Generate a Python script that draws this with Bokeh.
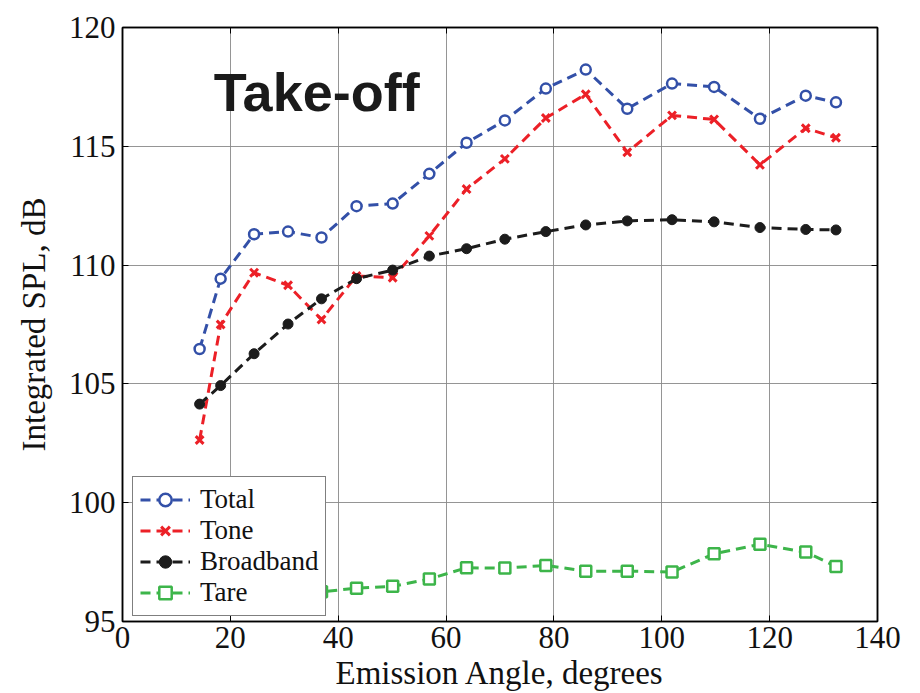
from bokeh.plotting import figure
from bokeh.models import (Range1d, LinearAxis, Label, FixedTicker, Legend, LegendItem,
                          CustomJSTickFormatter, InlineStyleSheet)
from bokeh.embed import file_html
from bokeh.resources import INLINE

# ---- data ----
angles = [14.3, 18.2, 24.4, 30.7, 36.9, 43.4, 50.1, 56.9, 63.8, 70.9,
          78.5, 85.9, 93.6, 101.9, 109.7, 118.2, 126.7, 132.3]
total = [106.47, 109.43, 111.30, 111.41, 111.16, 112.48, 112.59, 113.84, 115.15,
         116.09, 117.43, 118.23, 116.58, 117.64, 117.50, 116.16, 117.13, 116.85]
tone = [102.64, 107.50, 109.68, 109.15, 107.71, 109.54, 109.47, 111.23, 113.20,
        114.47, 116.19, 117.19, 114.75, 116.30, 116.13, 114.22, 115.76, 115.36]
broadband = [104.15, 104.93, 106.27, 107.52, 108.58, 109.43, 109.79, 110.38, 110.69,
             111.09, 111.41, 111.69, 111.86, 111.91, 111.82, 111.58, 111.50, 111.48]
tare = [95.9, 96.0, 96.1, 96.2, 96.25, 96.40, 96.48, 96.79, 97.26,
        97.25, 97.36, 97.12, 97.12, 97.08, 97.85, 98.25, 97.92, 97.32]

x_ticks = [0, 20, 40, 60, 80, 100, 120, 140]
y_ticks = [95, 100, 105, 110, 115, 120]

SERIF = "Liberation Serif"

legend_css = InlineStyleSheet(css="""
text[font-size="27px"], text[style*="27px"] { font-family: 'Liberation Serif', serif !important; }
.bk-legend, .bk-legend * { font-family: 'Liberation Serif', serif !important; }
""")

p = figure(width=904, height=693, output_backend="svg", toolbar_location=None,
           x_range=Range1d(0, 140), y_range=Range1d(95, 120),
           min_border_left=122, min_border_top=27, min_border_right=27,
           min_border_bottom=60, stylesheets=[legend_css])
p.background_fill_color = "white"
p.border_fill_color = "white"
p.outline_line_color = "black"
p.outline_line_width = 1.5

for ax in (p.xaxis[0], p.yaxis[0]):
    ax.major_tick_in = 6
    ax.major_tick_out = 0
    ax.minor_tick_in = 0
    ax.minor_tick_out = 0
    ax.axis_line_color = "black"
    ax.axis_line_width = 1.5
    ax.major_tick_line_color = "black"
    ax.major_label_text_font = SERIF
    ax.major_label_text_color = "#111111"
    ax.axis_label_text_font = SERIF
    ax.axis_label_text_font_style = "normal"
    ax.axis_label_text_color = "#111111"

p.xaxis.ticker = FixedTicker(ticks=x_ticks)
p.yaxis.ticker = FixedTicker(ticks=y_ticks)
p.xaxis.major_label_text_font_size = "31px"
p.yaxis.major_label_text_font_size = "31px"
p.xaxis.axis_label = "Emission Angle, degrees"
p.yaxis.axis_label = "Integrated SPL, dB"
p.xaxis.axis_label_text_font_size = "33px"
p.yaxis.axis_label_text_font_size = "33px"
p.xaxis.major_label_standoff = 5
p.xaxis.axis_label_standoff = 4
p.yaxis.major_label_standoff = 7
p.yaxis.axis_label_standoff = 14

# inside ticks on top and right (no labels)
blank = CustomJSTickFormatter(code="return ''")
top_ax = LinearAxis(ticker=FixedTicker(ticks=x_ticks), formatter=blank,
                    major_tick_in=6, major_tick_out=0, minor_tick_in=0, minor_tick_out=0,
                    axis_line_width=1.5, major_label_standoff=0)
right_ax = LinearAxis(ticker=FixedTicker(ticks=y_ticks), formatter=blank,
                      major_tick_in=6, major_tick_out=0, minor_tick_in=0, minor_tick_out=0,
                      axis_line_width=1.5, major_label_standoff=0)
p.add_layout(top_ax, "above")
p.add_layout(right_ax, "right")

p.xgrid.ticker = FixedTicker(ticks=x_ticks)
p.ygrid.ticker = FixedTicker(ticks=y_ticks)
p.grid.grid_line_color = "#8a8a8a"
p.grid.grid_line_width = 1
p.grid.grid_line_alpha = 0.9

BLUE = "#3350a8"
RED = "#ec2027"
BLACK = "#1c1c1c"
GREEN = "#3db54a"
DASH = "10 6"
LW = 3

items = []
r1 = p.line(angles, total, line_color=BLUE, line_width=LW, line_dash=DASH)
m1 = p.scatter(angles, total, marker="circle", size=10, line_color=BLUE,
               fill_color="white", line_width=2.5)
items.append(LegendItem(label="Total", renderers=[r1, m1]))

r2 = p.line(angles, tone, line_color=RED, line_width=LW, line_dash=DASH)
m2 = p.scatter(angles, tone, marker="x", size=11, line_color=RED, line_width=3)
items.append(LegendItem(label="Tone", renderers=[r2, m2]))

r3 = p.line(angles, broadband, line_color=BLACK, line_width=LW, line_dash=DASH)
m3 = p.scatter(angles, broadband, marker="circle", size=10, line_color=BLACK,
               fill_color=BLACK, line_width=1)
items.append(LegendItem(label="Broadband", renderers=[r3, m3]))

r4 = p.line(angles, tare, line_color=GREEN, line_width=LW, line_dash=DASH)
m4 = p.scatter(angles, tare, marker="square", size=11, line_color=GREEN,
               fill_color="white", line_width=2.5)
items.append(LegendItem(label="Tare", renderers=[r4, m4]))

legend = Legend(items=items, location=(10, 5), orientation="vertical",
                label_text_font=SERIF, label_text_font_size="27px",
                label_text_color="#111111",
                glyph_width=50, glyph_height=31, label_height=31,
                label_standoff=10, spacing=0, padding=7, margin=0,
                border_line_color="black", border_line_width=1.5,
                background_fill_color="white", background_fill_alpha=1.0)
p.add_layout(legend, "center")

title = Label(x=16.9, y=117.3, text="Take-off", text_font="Liberation Sans",
              text_font_style="bold", text_font_size="54px", text_color="#1a1a1a",
              text_baseline="alphabetic", text_align="left")
p.add_layout(title)

open("out.html", "w").write(file_html(p, INLINE))
